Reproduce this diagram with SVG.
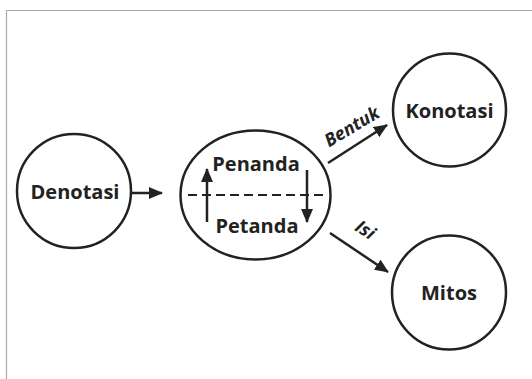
<svg xmlns="http://www.w3.org/2000/svg" width="532" height="379" viewBox="0 0 532 379">
<defs>
<style>
.node{fill:none;stroke:#222;stroke-width:2.5}
.lbl{font-family:"Open Sans","Liberation Sans",sans-serif;font-weight:bold;font-size:20px;fill:#222;text-anchor:middle}
.edge{font-family:"Open Sans","Liberation Sans",sans-serif;font-weight:bold;font-style:italic;font-size:18px;fill:#222;text-anchor:middle}
.conn{stroke:#222;stroke-width:2.5;fill:none;marker-end:url(#ah)}
</style>
<marker id="ah" markerUnits="userSpaceOnUse" markerWidth="14" markerHeight="12" refX="13" refY="6" orient="auto">
<path d="M0,0 L14,6 L0,12 Z" fill="#222"/>
</marker>
</defs>
<rect x="0" y="0" width="532" height="379" fill="#fff"/>
<path d="M6.5,379 V10.5 H532" fill="none" stroke="#aaa" stroke-width="1.2"/>
<g id="denotasi">
<circle class="node" cx="74" cy="191" r="57"/>
<text class="lbl" x="75" y="199">Denotasi</text>
</g>
<g id="tanda">
<ellipse class="node" cx="255.5" cy="195" rx="75" ry="64.5"/>
<line x1="188" y1="195" x2="324" y2="195" stroke="#222" stroke-width="2" stroke-dasharray="9,5"/>
<line class="conn" x1="207" y1="222" x2="207" y2="169"/>
<line class="conn" x1="307" y1="170" x2="307" y2="222"/>
<text class="lbl" x="256" y="171">Penanda</text>
<text class="lbl" x="257" y="233">Petanda</text>
</g>
<g id="konotasi">
<circle class="node" cx="449.5" cy="110" r="56.5"/>
<text class="lbl" x="449.5" y="118">Konotasi</text>
</g>
<g id="mitos">
<circle class="node" cx="449" cy="292.5" r="57"/>
<text class="lbl" x="449" y="300">Mitos</text>
</g>
<g id="connectors">
<line class="conn" x1="131" y1="193" x2="162" y2="193"/>
<line class="conn" x1="328" y1="163" x2="387" y2="125"/>
<line class="conn" x1="330" y1="233" x2="388" y2="272"/>
<text class="edge" x="355" y="132" transform="rotate(-31 355 132)">Bentuk</text>
<text class="edge" x="362" y="235" transform="rotate(33 362 235)">Isi</text>
</g>
</svg>
